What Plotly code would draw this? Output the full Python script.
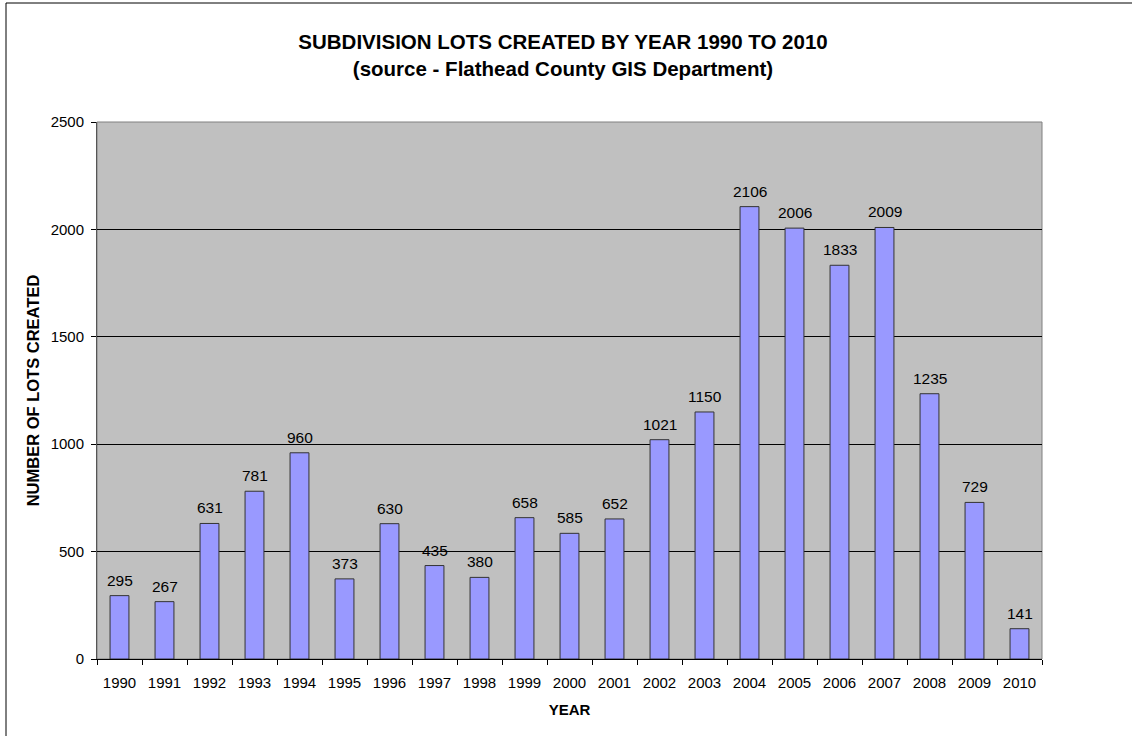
import plotly.graph_objects as go

years = [str(y) for y in range(1990, 2011)]
lots = [295, 267, 631, 781, 960, 373, 630, 435, 380, 658, 585, 652,
        1021, 1150, 2106, 2006, 1833, 2009, 1235, 729, 141]
y_ticks = [0, 500, 1000, 1500, 2000, 2500]

W, H = 1132, 736
L, R, T, B = 97, 1042, 122, 659
FONT = "Liberation Sans, Arial"

def px(x):
    return (x - L) / (R - L)

def py(y):
    return (B - y) / (B - T)

fig = go.Figure()
fig.add_trace(go.Bar(
    x=years, y=lots,
    marker=dict(color="#9999FF", line=dict(color="#333333", width=1)),
    width=0.42,
))

annotations = [
    dict(x=i, y=v, xref="x", yref="y", text=str(v), showarrow=False,
         yanchor="bottom", xanchor="center", yshift=5,
         font=dict(family=FONT, size=15.5, color="black"))
    for i, v in enumerate(lots)
]

fig.update_layout(
    width=W, height=H,
    margin=dict(l=L, r=W - R, t=T, b=H - B),
    paper_bgcolor="white",
    plot_bgcolor="#C0C0C0",
    showlegend=False,
    font=dict(family=FONT, size=15, color="black"),
    title=dict(
        text="<b>SUBDIVISION LOTS CREATED BY YEAR 1990 TO 2010</b><br><b>(source - Flathead County GIS Department)</b>",
        x=563 / W, xanchor="center",
        y=1 - 49 / H, yanchor="middle",
        font=dict(family=FONT, size=20.5, color="black"),
    ),
    xaxis=dict(
        type="category",
        categoryorder="array", categoryarray=years,
        range=[-0.5, len(years) - 0.5],
        tickson="boundaries",
        ticks="outside", ticklen=5, tickcolor="black",
        showline=True, linecolor="black", linewidth=1,
        showgrid=False,
        tickangle=0,
        tickfont=dict(size=15),
        ticklabelstandoff=10,
        title=dict(text="<b>YEAR</b>", font=dict(size=15), standoff=14),
    ),
    yaxis=dict(
        range=[0, 2500],
        tickvals=y_ticks,
        ticks="outside", ticklen=5, tickcolor="black",
        showline=True, linecolor="#555555", linewidth=1,
        showgrid=True, gridcolor="black", gridwidth=1,
        zeroline=False,
        tickfont=dict(size=15),
        ticklabelstandoff=4,
        title=dict(text="<b>NUMBER OF LOTS CREATED</b>", font=dict(size=16.5), standoff=6),
    ),
    annotations=annotations,
    shapes=[
        dict(type="rect", xref="paper", yref="paper",
             x0=0, x1=1, y0=0, y1=1,
             line=dict(color="#808080", width=1), layer="below"),
        dict(type="rect", xref="paper", yref="paper",
             x0=px(6), x1=px(1140), y0=py(740), y1=py(3),
             line=dict(color="black", width=1), fillcolor="rgba(0,0,0,0)"),
    ],
)

fig.write_html("out.html")
